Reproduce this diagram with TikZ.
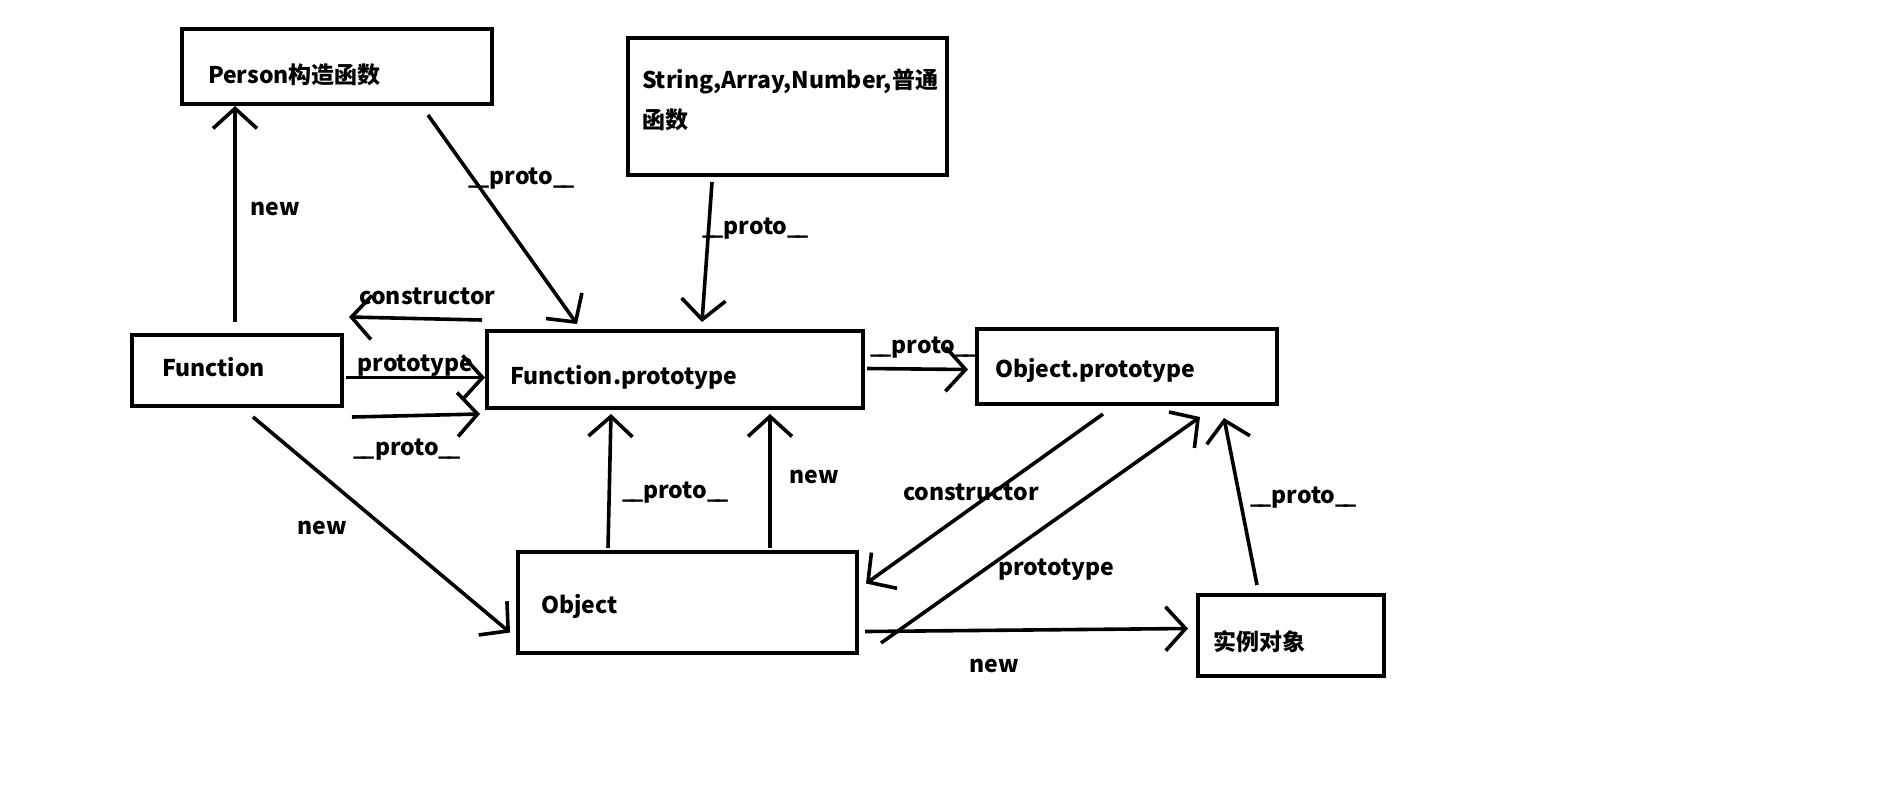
\documentclass[tikz,border=0pt]{standalone}
\usepackage{fontspec}
\setmainfont{Noto Sans CJK SC}
\usetikzlibrary{calc, arrows.meta}
\newcommand\lift[2]{\raisebox{#1}[\height][\depth]{#2}}	% move text, keep its box
\newcommand\dunder{\_\kern-2.5pt\_}
\newcommand\proto{\dunder proto\dunder}

\begin{document}
\begin{tikzpicture}[x=.5pt, y=-.5pt, >={Straight Barb[length=10pt, width=22pt]}]
	\def\blw{2pt}		% box line width
	\def\alw{1.8pt}		% arrow line width
	\def\fs{\bfseries\fontsize{11.5}{20}\selectfont}	% text font
	\tikzset{
		box/.style={draw, line width=\blw, align=left, font=\fs},
		arr/.style={->, line width=\alw},
		lbl/.style={font=\fs, inner sep=0pt}
	}

	% Frame (pixel units, y downwards)
	\useasboundingbox (0, 0) rectangle (1881, 811);
	\fill[white] (0, 0) rectangle (1881, 811);

	% Boxes
	\node[box, minimum width=155pt, minimum height=37.5pt, inner xsep=13pt, text width=129pt]
		(person) at (337, 66.5) {\lift{-4pt}{Person构造函数}};
	\node[box, minimum width=159.5pt, minimum height=68.5pt, inner xsep=7pt, text width=145.5pt]
		(strings) at (787.5, 106.5) {\lift{3.5pt}{String,Array,Number,普通}\\\lift{3.5pt}{函数}};
	\node[box, minimum width=105pt, minimum height=35.5pt, inner xsep=15pt, text width=75pt]
		(func) at (237, 370.5) {\lift{1.5pt}{Function}};
	\node[box, minimum width=188pt, minimum height=38.5pt, inner xsep=11.5pt, text width=165pt]
		(fproto) at (675, 369.5) {\lift{-4pt}{Function.prototype}};
	\node[box, minimum width=150pt, minimum height=37.5pt, inner xsep=9pt, text width=132pt]
		(oproto) at (1127, 366.5) {\lift{-1.8pt}{Object.prototype}};
	\node[box, minimum width=169.5pt, minimum height=50.5pt, inner xsep=11.5pt, text width=146.5pt]
		(object) at (687.5, 602.5) {\lift{-1.8pt}{Object}};
	\node[box, minimum width=93pt, minimum height=40.5pt, inner xsep=7.5pt, text width=78pt]
		(inst) at (1291, 635.5) {\lift{-3pt}{实例对象}};

	% Function side
	\draw[arr] ($(func.north)+(-2,-11)$) -- ($(person.south)+(-102,0)$)
		node[lbl, pos=.5, xshift=20pt, yshift=2.5pt] (t1) {new};
	\draw[arr] ($(person.south)+(91,9)$) -- ($(fproto.north)+(-98,-5)$)
		node[lbl, pos=.305, xshift=24pt] (t2) {\proto};
	\draw[arr] ($(strings.south)+(-75.5,5)$) -- ($(fproto.north)+(27,-7)$)
		node[lbl, pos=.333, xshift=23.5pt] (t3) {\proto};
	\draw[arr] ($(fproto.north west)+(-3,-9)$) -- ($(func.north east)+(5,-16)$)
		node[lbl, pos=.5, xshift=6pt, yshift=11pt] (t4) {constructor};
	\draw[arr] ($(func.east)+(2,7)$) -- ($(fproto.west)+(0,8)$)
		node[lbl, pos=.5, yshift=6pt] (t5) {prototype};
	\draw[arr] ($(func.south east)+(8,9)$) -- ($(fproto.south west)+(-5,4)$)
		node[lbl, pos=.5, xshift=-4.5pt, yshift=-17pt] (t6) {\proto};
	\draw[arr] ($(fproto.east)+(2,-1)$) -- ($(oproto.west)+(-7,3)$)
		node[lbl, pos=.5, xshift=3pt, yshift=10.5pt] (t7) {\proto};
	\draw[arr] ($(func.south)+(16,9)$) -- ($(object.west)+(-6,30)$)
		node[lbl, pos=.514, xshift=-31.5pt] (t8) {new};

	% Object side
	\draw[arr] ($(object.north)+(-79.5,-2)$) -- ($(fproto.south)+(-64,4)$)
		node[lbl, pos=.413, xshift=33pt] (t9) {\proto};
	\draw[arr] ($(object.north)+(82.5,-2)$) -- ($(fproto.south)+(95,4)$)
		node[lbl, pos=.53, xshift=22pt] (t10) {new};
	\draw[arr] ($(oproto.south)+(-24,8)$) -- ($(object.east)+(7,-19)$)
		node[lbl, pos=.462, xshift=-11.3pt] (t11) {constructor};
	\draw[arr] ($(object.south east)+(22,-12)$) -- ($(oproto.south)+(73,11)$)
		node[lbl, pos=.323, xshift=36pt] (t12) {prototype};
	\draw[arr] ($(object.east)+(6,29)$) -- ($(inst.west)+(-8,-7)$)
		node[lbl, pos=.4, yshift=-18pt] (t13) {new};
	\draw[arr] ($(inst.north)+(-34,-8)$) -- ($(oproto.south)+(97,12)$)
		node[lbl, pos=.526, xshift=32pt] (t14) {\proto};

\end{tikzpicture}
\end{document}
